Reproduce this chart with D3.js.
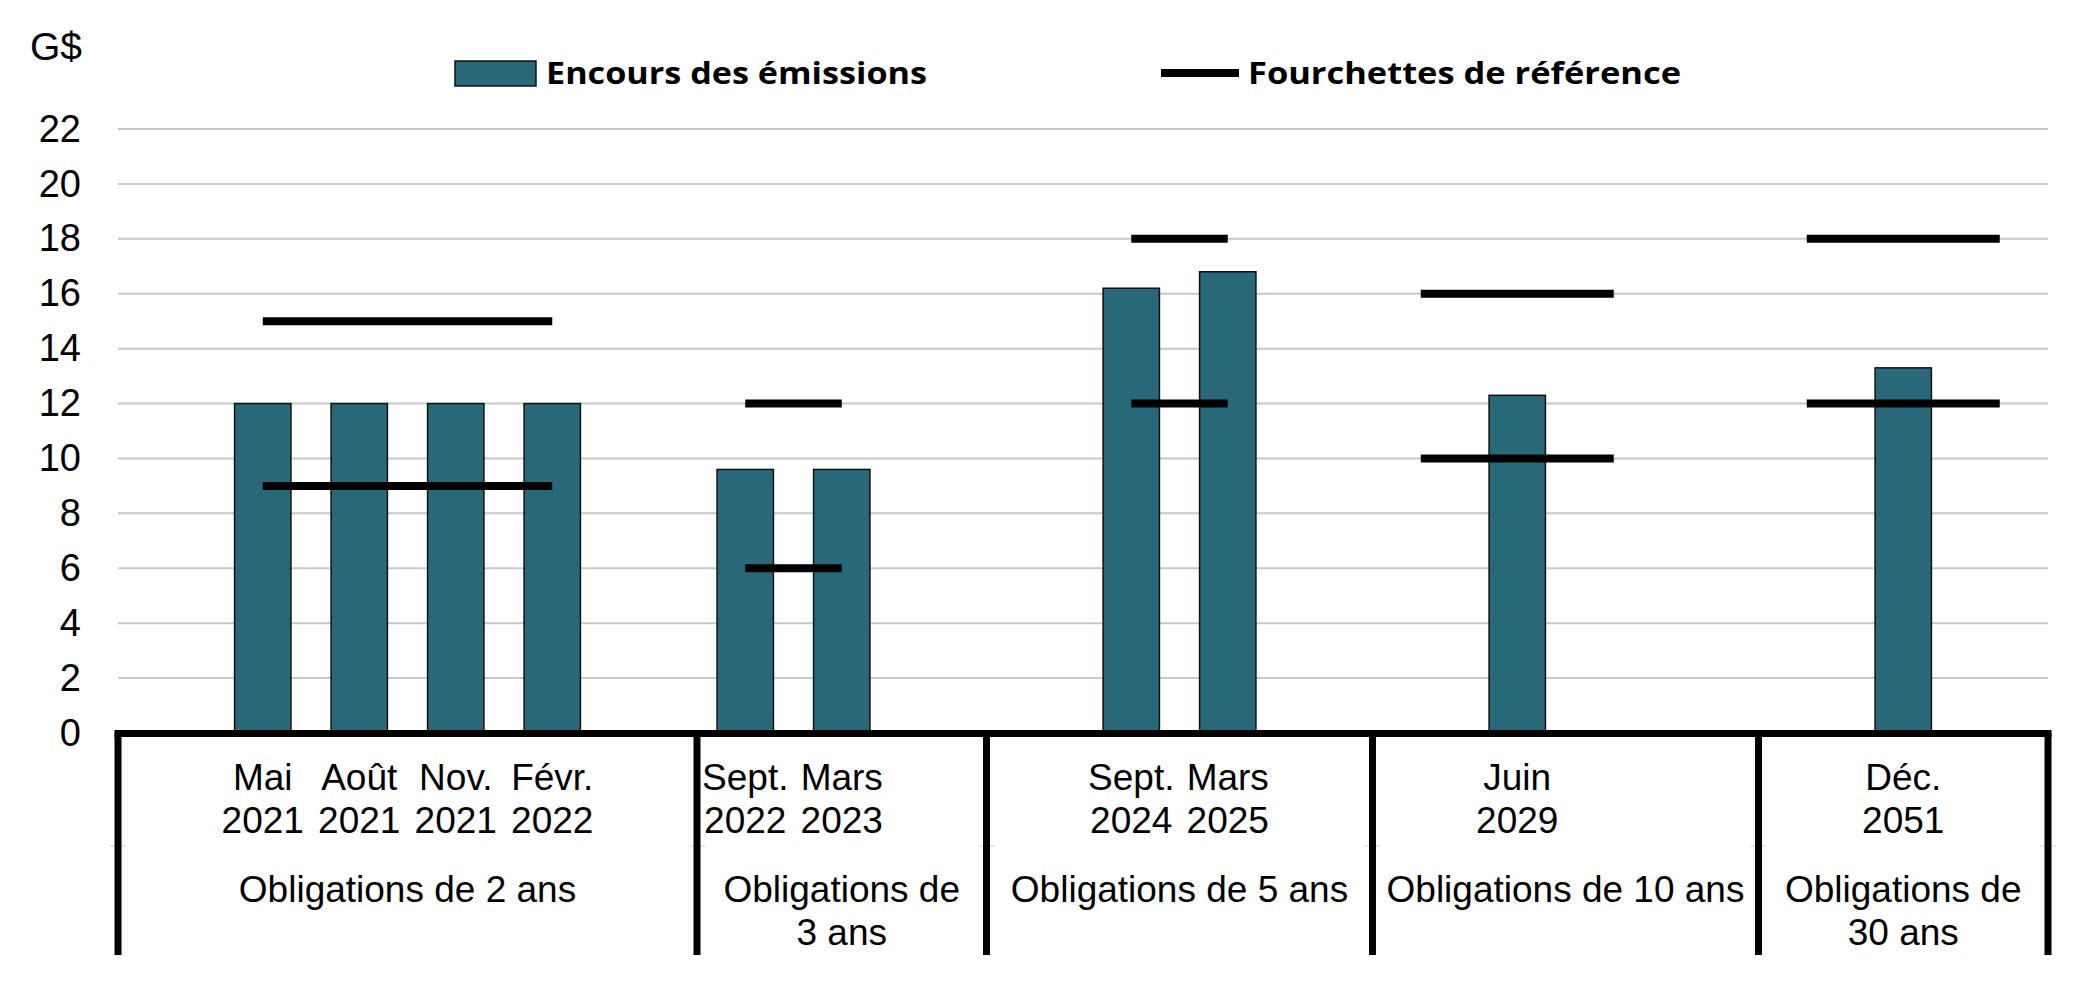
<!DOCTYPE html>
<html><head><meta charset="utf-8">
<script src="https://cdn.jsdelivr.net/npm/d3@7"></script>
<style>body{margin:0;background:#fff} svg{display:block}</style>
</head><body>
<script>
// ---- data ----
const months = ["", "Mai", "Août", "Nov.", "Févr.", "", "Sept.", "Mars", "", "", "Sept.", "Mars", "", "", "Juin", "", "", "", "Déc.", ""];
const years  = ["", "2021", "2021", "2021", "2022", "", "2022", "2023", "", "", "2024", "2025", "", "", "2029", "", "", "", "2051", ""];
const outstanding = [null, 12, 12, 12, 12, null, 9.6, 9.6, null, null, 16.2, 16.8, null, null, 12.3, null, null, null, 13.3, null];
const rangeHigh   = [null, 15, 15, 15, 15, null, 12, 12, null, null, 18, 18, null, 16, 16, 16, null, 18, 18, 18];
const rangeLow    = [null, 9, 9, 9, 9, null, 6, 6, null, null, 12, 12, null, 10, 10, 10, null, 12, 12, 12];
const groupLabels = [["Obligations de 2 ans"], ["Obligations de", "3 ans"], ["Obligations de 5 ans"], ["Obligations de 10 ans"], ["Obligations de", "30 ans"]];
const groupBounds = [0, 6, 9, 13, 17, 20];
const yTicks = [0, 2, 4, 6, 8, 10, 12, 14, 16, 18, 20, 22];
const seriesNames = ["Encours des émissions", "Fourchettes de référence"];
const unitLabel = "G$";

// ---- setup ----
const W = 2085, H = 1005;
const barColor = "#296879";
const font = "'Liberation Sans', Arial, sans-serif";
const svg = d3.select("body").append("svg").attr("width", W).attr("height", H);

const plotL = 118, plotR = 2048, plotT = 129, plotB = 733;
const x = d3.scaleBand().domain(d3.range(months.length)).range([plotL, plotR])
  .paddingInner(0.416).paddingOuter(0.208);
const y = d3.scaleLinear().domain([0, 22]).range([plotB, plotT]);
const edge = k => plotL + k * x.step();
const cx = i => x(i) + x.bandwidth() / 2;

// gridlines
svg.append("g").selectAll("line").data(yTicks.filter(t => t > 0)).join("line")
  .attr("x1", plotL).attr("x2", plotR)
  .attr("y1", d => y(d)).attr("y2", d => y(d))
  .attr("stroke", "#c8c8c8").attr("stroke-width", 2);

// y axis
const yAxis = svg.append("g").attr("transform", `translate(81,0)`)
  .call(d3.axisLeft(y).tickValues(yTicks).tickSize(0).tickPadding(0).tickFormat(d3.format("d")));
yAxis.select(".domain").remove();
yAxis.selectAll("text").attr("font-family", font).attr("font-size", 38).attr("fill", "#000");

svg.append("text").attr("x", 30).attr("y", 60).text(unitLabel)
  .attr("font-family", font).attr("font-size", 39).attr("fill", "#000");

// bars
svg.append("g").selectAll("rect")
  .data(outstanding.map((v, i) => ({v, i})).filter(d => d.v != null)).join("rect")
  .attr("x", d => x(d.i)).attr("width", x.bandwidth())
  .attr("y", d => y(d.v)).attr("height", d => y(0) - y(d.v))
  .attr("fill", barColor).attr("stroke", "#111").attr("stroke-width", 1.5);

// range lines
const line = d3.line().defined(d => d.v != null).x(d => cx(d.i)).y(d => y(d.v));
[rangeHigh, rangeLow].forEach(arr => {
  svg.append("path").datum(arr.map((v, i) => ({v, i})))
    .attr("d", line).attr("fill", "none").attr("stroke", "#000")
    .attr("stroke-width", 8).attr("stroke-linecap", "butt");
});

// category axis
const axisG = svg.append("g");
groupBounds.forEach(k => {
  axisG.append("line").attr("x1", edge(k) - 8).attr("x2", edge(k) + 8)
    .attr("y1", 846).attr("y2", 846).attr("stroke", "#ccc").attr("stroke-width", 1);
});
groupBounds.forEach(k => {
  axisG.append("line").attr("x1", edge(k)).attr("x2", edge(k))
    .attr("y1", plotB).attr("y2", 955).attr("stroke", "#000").attr("stroke-width", 7);
});
axisG.append("line").attr("x1", plotL - 3.5).attr("x2", plotR + 3.5)
  .attr("y1", plotB + 0.5).attr("y2", plotB + 0.5).attr("stroke", "#000").attr("stroke-width", 7);

const catText = axisG.append("g").attr("font-family", font).attr("font-size", 37)
  .attr("text-anchor", "middle").attr("fill", "#000");
months.forEach((m, i) => {
  if (m) catText.append("text").attr("x", cx(i)).attr("y", 790).text(m);
  if (years[i]) catText.append("text").attr("x", cx(i)).attr("y", 833).text(years[i]);
});
groupLabels.forEach((lines, g) => {
  const mid = (edge(groupBounds[g]) + edge(groupBounds[g + 1])) / 2;
  lines.forEach((t, j) => catText.append("text").attr("x", mid).attr("y", 902 + j * 43).text(t));
});

// legend
const leg = svg.append("g").attr("font-family", "'Open Sans', sans-serif").attr("font-weight", 700)
  .attr("font-size", 31).attr("fill", "#000");
leg.append("rect").attr("x", 455).attr("y", 61).attr("width", 81).attr("height", 25)
  .attr("fill", barColor).attr("stroke", "#111").attr("stroke-width", 1.5);
leg.append("text").attr("x", 546).attr("y", 84).text(seriesNames[0])
  .attr("textLength", 381).attr("lengthAdjust", "spacingAndGlyphs");
leg.append("line").attr("x1", 1161).attr("x2", 1239).attr("y1", 73).attr("y2", 73)
  .attr("stroke", "#000").attr("stroke-width", 8);
leg.append("text").attr("x", 1248).attr("y", 84).text(seriesNames[1])
  .attr("textLength", 433).attr("lengthAdjust", "spacingAndGlyphs");
</script>
</body></html>
